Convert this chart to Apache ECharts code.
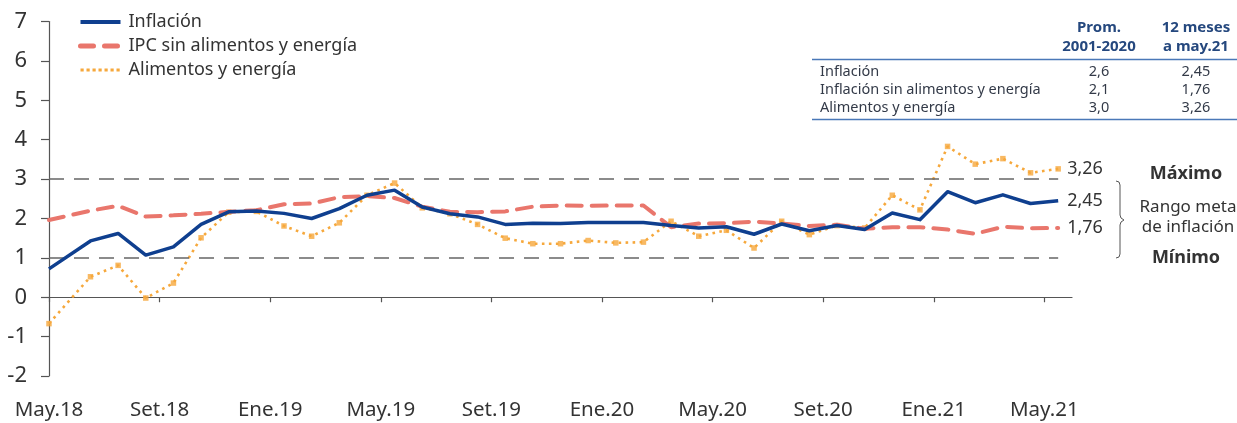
<!DOCTYPE html>
<html>
<head>
<meta charset="utf-8">
<script src="https://cdn.jsdelivr.net/npm/echarts@6/dist/echarts.min.js"></script>
<style>
  html, body { margin: 0; padding: 0; background: #fff; }
  #chart { width: 1237px; height: 423px; }
</style>
</head>
<body>
<div id="chart"></div>
<script>
const months = ['May.18','Jun.18','Jul.18','Ago.18','Set.18','Oct.18','Nov.18','Dic.18',
  'Ene.19','Feb.19','Mar.19','Abr.19','May.19','Jun.19','Jul.19','Ago.19','Set.19','Oct.19','Nov.19','Dic.19',
  'Ene.20','Feb.20','Mar.20','Abr.20','May.20','Jun.20','Jul.20','Ago.20','Set.20','Oct.20','Nov.20','Dic.20',
  'Ene.21','Feb.21','Mar.21','Abr.21','May.21'];

const inflacion = [0.72, 1.43, 1.62, 1.07, 1.28, 1.85, 2.17, 2.19,
  2.13, 2.00, 2.25, 2.59, 2.72, 2.29, 2.12, 2.04, 1.85, 1.88, 1.87, 1.90,
  1.90, 1.90, 1.82, 1.76, 1.79, 1.60, 1.86, 1.69, 1.82, 1.72, 2.14, 1.97,
  2.68, 2.40, 2.60, 2.38, 2.45];

const ipcSinAE = [1.96, 2.20, 2.32, 2.05, 2.08, 2.12, 2.17, 2.21,
  2.36, 2.38, 2.54, 2.57, 2.52, 2.30, 2.17, 2.16, 2.18, 2.30, 2.33, 2.32,
  2.33, 2.33, 1.78, 1.87, 1.88, 1.92, 1.87, 1.81, 1.84, 1.74, 1.78, 1.78,
  1.72, 1.61, 1.79, 1.75, 1.76];

const alimEnergia = [-0.67, 0.52, 0.81, -0.02, 0.36, 1.51, 2.16, 2.18,
  1.81, 1.55, 1.89, 2.59, 2.90, 2.27, 2.12, 1.85, 1.50, 1.36, 1.36, 1.44,
  1.38, 1.40, 1.93, 1.55, 1.70, 1.25, 1.93, 1.59, 1.82, 1.76, 2.59, 2.22,
  3.83, 3.38, 3.52, 3.16, 3.26];

const xTickIdx = [0, 4, 8, 12, 16, 20, 24, 28, 32, 36];
const metaRange = [1, 3];

const tableHeader = [['Prom.', '2001-2020'], ['12 meses', 'a may.21']];
const tableRows = ['Inflación', 'Inflación sin alimentos y energía', 'Alimentos y energía'];
const tableProm = ['2,6', '2,1', '3,0'];
const tableLast = ['2,45', '1,76', '3,26'];

const names = ['Inflación', 'IPC sin alimentos y energía', 'Alimentos y energía'];

// month index -> x value (months are bands; values plotted mid-month, series begins at axis origin)
const xPos = months.map((m, i) => i === 0 ? 0 : i + 0.5);
const pairs = arr => arr.map((v, i) => [xPos[i], v]);
const fmt = v => v.toFixed(2).replace('.', ',');

const FONT = 'Noto Sans';
const TXT = '#333333';
const BLUE = '#0f3f8f';
const RED = '#e9766c';
const YEL = '#f6a83c';

const chart = echarts.init(document.getElementById('chart'), null, { renderer: 'canvas' });

const lastX = xPos[xPos.length - 1];

const option = {
  animation: false,
  textStyle: { fontFamily: FONT },
  grid: { left: 49, right: 165, top: 21.6, bottom: 47, containLabel: false },
  legend: {
    orient: 'vertical',
    left: 78, top: 12, padding: 0,
    itemWidth: 40, itemHeight: 14, itemGap: 4,
    data: [
      { name: names[0], lineStyle: { width: 4 } },
      { name: names[1], lineStyle: { width: 5, type: [13, 11], cap: 'round' } },
      { name: names[2], lineStyle: { width: 3.2, type: [3.2, 2.8] } }
    ],
    itemStyle: { opacity: 0 },
    textStyle: { fontSize: 18, color: TXT, fontFamily: FONT, lineHeight: 20, padding: [0, 0, 0, 3] }
  },
  xAxis: [
    {
      type: 'value', min: 0, max: 37, position: 'bottom',
      axisLine: { show: false, onZero: false },
      axisTick: { show: false },
      splitLine: { show: false },
      axisLabel: {
        customValues: xTickIdx,
        formatter: v => months[v] || '',
        fontSize: 20.5, color: TXT, fontFamily: FONT, margin: 24
      }
    },
    {
      type: 'value', min: 0, max: 37, position: 'top',
      axisLine: { show: true, onZero: true, lineStyle: { color: '#555', width: 1.2 } },
      axisTick: { show: true, inside: true, length: 5, customValues: xTickIdx, lineStyle: { color: '#555', width: 1.2 } },
      axisLabel: { show: false },
      splitLine: { show: false }
    }
  ],
  yAxis: {
    type: 'value', min: -2, max: 7, interval: 1,
    axisLine: { show: true, lineStyle: { color: '#555', width: 1.2 } },
    axisTick: { show: true, length: 8, lineStyle: { color: '#555', width: 1.2 } },
    axisLabel: { fontSize: 22, color: TXT, fontFamily: FONT, margin: 22 },
    splitLine: { show: false }
  },
  series: [
    {
      name: names[0], type: 'line', xAxisIndex: 0,
      data: pairs(inflacion), symbol: 'none', z: 5,
      lineStyle: { color: BLUE, width: 3.5, join: 'round' },
      itemStyle: { color: BLUE },
      endLabel: { show: true, formatter: p => fmt(p.value[1]), distance: 9, fontSize: 18, color: TXT, fontFamily: FONT },
      markLine: {
        silent: true, symbol: 'none', label: { show: false },
        lineStyle: { color: '#666', width: 1.5, type: [15, 10] },
        data: metaRange.map(v => [{ coord: [0, v] }, { coord: [lastX, v] }])
      }
    },
    {
      name: names[1], type: 'line', xAxisIndex: 0,
      data: pairs(ipcSinAE), symbol: 'none', z: 4,
      lineStyle: { color: RED, width: 4, type: [15, 10], cap: 'round' },
      itemStyle: { color: RED },
      endLabel: { show: true, formatter: p => fmt(p.value[1]), distance: 9, fontSize: 18, color: TXT, fontFamily: FONT }
    },
    {
      name: names[2], type: 'line', xAxisIndex: 0,
      data: pairs(alimEnergia), symbol: 'none', z: 3,
      lineStyle: { color: YEL, width: 2.6, type: [2.6, 4.4] },
      itemStyle: { color: YEL },
      endLabel: { show: true, formatter: p => fmt(p.value[1]), distance: 9, fontSize: 18, color: TXT, fontFamily: FONT }
    },
    {
      name: 'marcas', type: 'scatter', xAxisIndex: 0,
      data: pairs(alimEnergia), symbol: 'rect', symbolSize: 5.5, z: 3,
      itemStyle: { color: YEL }, silent: true
    }
  ],
  graphic: []
};

const g = option.graphic;
// table
const colX = [1099, 1196];
tableHeader.forEach((lines, c) => {
  lines.forEach((t, r) => {
    g.push({ type: 'text', x: colX[c], y: 28 + r * 19, style: { text: t, fill: '#25487e', font: 'bold 15px "Noto Sans"', textAlign: 'center', textVerticalAlign: 'middle' } });
  });
});
g.push({ type: 'line', shape: { x1: 812, y1: 59.5, x2: 1237, y2: 59.5 }, style: { stroke: '#4a78b8', lineWidth: 1.5 } });
g.push({ type: 'line', shape: { x1: 812, y1: 119.5, x2: 1237, y2: 119.5 }, style: { stroke: '#4a78b8', lineWidth: 1.5 } });
tableRows.forEach((t, r) => {
  const y = 72 + r * 17.7;
  g.push({ type: 'text', x: 820, y, style: { text: t, fill: '#333a48', font: '14.5px "Noto Sans"', textAlign: 'left', textVerticalAlign: 'middle' } });
  g.push({ type: 'text', x: colX[0], y, style: { text: tableProm[r], fill: '#333a48', font: '14.5px "Noto Sans"', textAlign: 'center', textVerticalAlign: 'middle' } });
  g.push({ type: 'text', x: colX[1], y, style: { text: tableLast[r], fill: '#333a48', font: '14.5px "Noto Sans"', textAlign: 'center', textVerticalAlign: 'middle' } });
});
// meta range annotation
g.push({ type: 'text', x: 1186, y: 174, style: { text: 'Máximo', fill: TXT, font: 'bold 18px "Noto Sans"', textAlign: 'center', textVerticalAlign: 'middle' } });
g.push({ type: 'text', x: 1188, y: 207, style: { text: 'Rango meta', fill: TXT, font: '17px "Noto Sans"', textAlign: 'center', textVerticalAlign: 'middle' } });
g.push({ type: 'text', x: 1188, y: 227, style: { text: 'de inflación', fill: TXT, font: '17px "Noto Sans"', textAlign: 'center', textVerticalAlign: 'middle' } });
g.push({ type: 'text', x: 1186, y: 258, style: { text: 'Mínimo', fill: TXT, font: 'bold 18px "Noto Sans"', textAlign: 'center', textVerticalAlign: 'middle' } });
g.push({ type: 'polyline', shape: { points: [[1116,181],[1119,182],[1120,185],[1120,215],[1121,218],[1124,220],[1121,222],[1120,225],[1120,254],[1119,257],[1116,258]] }, style: { stroke: '#555', lineWidth: 1, fill: null } });

chart.setOption(option);
</script>
</body>
</html>
